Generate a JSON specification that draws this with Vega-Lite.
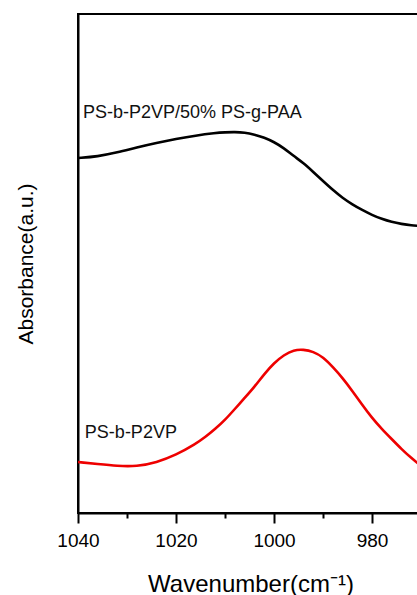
{
  "$schema": "https://vega.github.io/schema/vega-lite/v6.json",
  "autosize": "none",
  "width": 345,
  "height": 499,
  "padding": {"left": 78, "top": 14, "right": 0, "bottom": 82},
  "config": {
    "view": {"stroke": "#000", "strokeWidth": 2},
    "font": "Liberation Sans"
  },
  "datasets": {
    "spectra": [
      {"w": 1040, "v": 71.14, "s": "blend"}, {"w": 1036, "v": 71.44, "s": "blend"}, {"w": 1032, "v": 72.24, "s": "blend"},
      {"w": 1028, "v": 73.25, "s": "blend"}, {"w": 1024, "v": 74.15, "s": "blend"}, {"w": 1020, "v": 74.95, "s": "blend"},
      {"w": 1016, "v": 75.65, "s": "blend"}, {"w": 1012, "v": 76.15, "s": "blend"}, {"w": 1010, "v": 76.29, "s": "blend"},
      {"w": 1008, "v": 76.35, "s": "blend"}, {"w": 1006, "v": 76.25, "s": "blend"}, {"w": 1004, "v": 75.85, "s": "blend"},
      {"w": 1002, "v": 75.25, "s": "blend"}, {"w": 1000, "v": 74.35, "s": "blend"}, {"w": 998, "v": 73.15, "s": "blend"},
      {"w": 996, "v": 71.54, "s": "blend"}, {"w": 994, "v": 70.14, "s": "blend"}, {"w": 992, "v": 68.34, "s": "blend"},
      {"w": 990, "v": 66.53, "s": "blend"}, {"w": 988, "v": 64.73, "s": "blend"}, {"w": 986, "v": 63.13, "s": "blend"},
      {"w": 984, "v": 61.82, "s": "blend"}, {"w": 982, "v": 60.72, "s": "blend"}, {"w": 980, "v": 59.72, "s": "blend"},
      {"w": 978, "v": 58.92, "s": "blend"}, {"w": 976, "v": 58.32, "s": "blend"}, {"w": 974, "v": 57.92, "s": "blend"},
      {"w": 972, "v": 57.62, "s": "blend"}, {"w": 970, "v": 57.52, "s": "blend"}, {"w": 968, "v": 57.41, "s": "blend"},
      {"w": 1040, "v": 10.22, "s": "pure"}, {"w": 1036, "v": 9.82, "s": "pure"}, {"w": 1032, "v": 9.42, "s": "pure"},
      {"w": 1028, "v": 9.32, "s": "pure"}, {"w": 1024, "v": 10.12, "s": "pure"}, {"w": 1020, "v": 11.62, "s": "pure"},
      {"w": 1016, "v": 13.83, "s": "pure"}, {"w": 1014, "v": 15.23, "s": "pure"}, {"w": 1012, "v": 16.83, "s": "pure"},
      {"w": 1010, "v": 18.64, "s": "pure"}, {"w": 1008, "v": 20.84, "s": "pure"}, {"w": 1006, "v": 23.05, "s": "pure"},
      {"w": 1004, "v": 25.25, "s": "pure"}, {"w": 1002, "v": 27.86, "s": "pure"}, {"w": 1000, "v": 30.06, "s": "pure"},
      {"w": 998, "v": 31.66, "s": "pure"}, {"w": 996, "v": 32.67, "s": "pure"}, {"w": 994, "v": 32.77, "s": "pure"},
      {"w": 992, "v": 32.36, "s": "pure"}, {"w": 990, "v": 31.26, "s": "pure"}, {"w": 988, "v": 29.26, "s": "pure"},
      {"w": 986, "v": 27.05, "s": "pure"}, {"w": 984, "v": 24.45, "s": "pure"}, {"w": 982, "v": 21.64, "s": "pure"},
      {"w": 980, "v": 19.04, "s": "pure"}, {"w": 978, "v": 16.83, "s": "pure"}, {"w": 976, "v": 14.83, "s": "pure"},
      {"w": 974, "v": 12.83, "s": "pure"}, {"w": 972, "v": 11.02, "s": "pure"}, {"w": 970, "v": 9.42, "s": "pure"},
      {"w": 968, "v": 8.22, "s": "pure"}
    ],
    "labels": [
      {"w": 1039, "v": 80.16, "label": "PS-b-P2VP/50% PS-g-PAA"},
      {"w": 1038.6, "v": 16.03, "label": "PS-b-P2VP"}
    ]
  },
  "layer": [
    {
      "data": {"name": "spectra"},
      "mark": {"type": "line", "interpolate": "basis", "strokeWidth": 2.6, "clip": true},
      "encoding": {
        "x": {
          "field": "w", "type": "quantitative",
          "scale": {"domain": [1040, 969.6], "nice": false, "zero": false},
          "axis": {
            "orient": "bottom",
            "values": [1040, 1030, 1020, 1010, 1000, 990, 980],
            "labelExpr": "datum.value % 20 === 0 ? format(datum.value, 'd') : ''",
            "labelFlush": false,
            "grid": false,
            "tickSize": 10,
            "tickDash": {"condition": {"test": "datum.value % 20 === 0", "value": [10, 0]}, "value": [5, 20]},
            "tickWidth": 2, "tickColor": "#000",
            "domainColor": "#000", "domainWidth": 2,
            "labelFontSize": 19, "labelColor": "#000", "labelPadding": 8, "labelFont": "Liberation Sans",
            "title": "Wavenumber(cm⁻¹)", "titleFontSize": 24, "titleFontWeight": "normal",
            "titleColor": "#000", "titlePadding": 22, "titleFont": "Liberation Sans"
          }
        },
        "y": {
          "field": "v", "type": "quantitative",
          "scale": {"domain": [0, 100], "nice": false},
          "axis": {
            "grid": false, "ticks": false, "labels": false,
            "domainColor": "#000", "domainWidth": 2,
            "title": "Absorbance(a.u.)", "titleFontSize": 21, "titleFontWeight": "normal",
            "titleColor": "#000", "titlePadding": 42, "titleFont": "Liberation Sans"
          }
        },
        "color": {
          "field": "s", "type": "nominal",
          "scale": {"domain": ["blend", "pure"], "range": ["#000000", "#ee0000"]},
          "legend": null
        },
        "detail": {"field": "s"}
      }
    },
    {
      "data": {"name": "labels"},
      "mark": {"type": "text", "align": "left", "baseline": "middle", "fontSize": 18, "font": "Liberation Sans", "color": "#111"},
      "encoding": {
        "x": {"field": "w", "type": "quantitative"},
        "y": {"field": "v", "type": "quantitative"},
        "text": {"field": "label"}
      }
    }
  ]
}
